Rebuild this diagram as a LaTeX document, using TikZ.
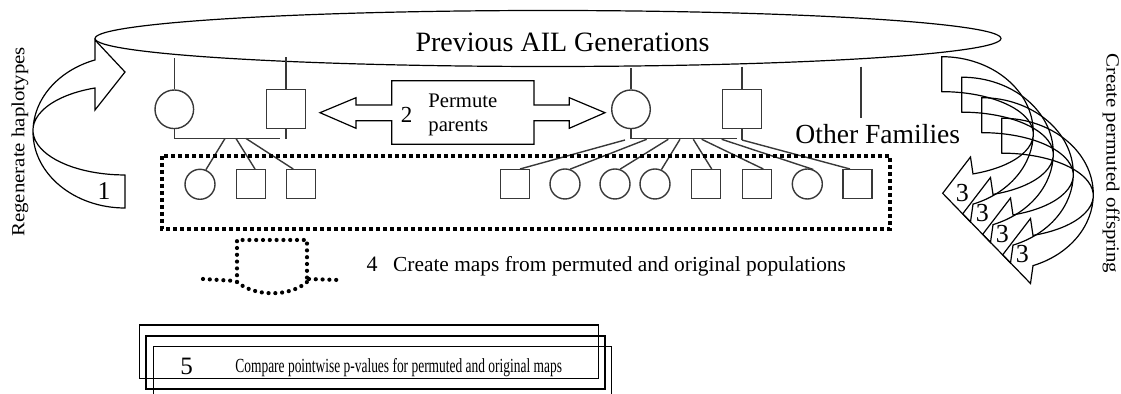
\documentclass[tikz,border=0pt]{standalone}
\usepackage{fontspec}
\setmainfont{Liberation Serif}
\usepackage{graphicx}
\usetikzlibrary{calc}
\tikzset{
 pline/.style={draw=black!78, line width=0.7pt},
 pcirc/.style={pline, circle, minimum size=19.3pt, inner sep=0pt},
 psq/.style={pline, rectangle, minimum size=19.5pt, inner sep=0pt},
 ccirc/.style={pline, circle, minimum size=15pt, inner sep=0pt},
 csq/.style={pline, rectangle, minimum size=14.5pt, inner sep=0pt},
 outl/.style={draw=black, line width=0.6pt},
 bigdots/.style={draw=black, line width=2pt, dash pattern=on 2pt off 1.5pt},
 rounddots/.style={draw=black, line width=2.1pt, dash pattern=on 0pt off 3.4pt, line cap=round},
 txt/.style={inner sep=0pt, text=black},
}
\begin{document}
\begin{tikzpicture}[x=0.5pt,y=0.5pt,yscale=-1]
\useasboundingbox (0,0) rectangle (1121,394);

% ---- Previous generations ellipse
\draw[outl] (548,38.5) ellipse [x radius=453, y radius=28];
\node[txt, font=\fontsize{14}{16}\selectfont, anchor=base] (gen) at (562.5,51.7) {Previous AIL Generations};

% ---- Family 1
\node[pcirc] (m1) at (174.3,109.3) {};
\node[psq] (f1) at (286,109) {};
\coordinate (m1top) at (174.3,58.3);
\coordinate (f1top) at (286,57.3);
\draw[pline] (m1top) -- (m1.north);
\draw[pline] (f1top) -- (f1.north);
\coordinate (j1a) at (174.3,138.5);
\coordinate (j1b) at (280,138.5);
\draw[pline] (m1.south) -- (j1a) -- (j1b);
\coordinate (f1s) at (286,139);
\draw[pline] (f1.south) -- (f1s);
\node[ccirc] (k1) at (200,184.3) {};
\node[csq] (k2) at (251,184.2) {};
\node[csq] (k3) at (301.2,184.2) {};
\coordinate (p1a) at (225,138.5);
\coordinate (p1b) at (236,138.5);
\coordinate (p1c) at (246,138.5);
\draw[pline] (p1a) -- (k1.68);
\draw[pline] (p1b) -- ($(k2.north)+(4,0)$);
\draw[pline] (p1c) -- ($(k3.north)+(-8,0)$);

% ---- Family 2
\node[pcirc] (m2) at (631,109.3) {};
\node[psq] (f2) at (742,109.2) {};
\coordinate (m2top) at (631,68.3);
\coordinate (f2top) at (742,66.7);
\draw[pline] (m2top) -- (m2.north);
\draw[pline] (f2top) -- (f2.north);
\coordinate (j2a) at (631,138.3);
\coordinate (j2b) at (736.7,138.3);
\draw[pline] (m2.south) -- (j2a) -- (j2b);
\coordinate (f2s) at (742,140);
\draw[pline] (f2.south) -- (f2s);
\node[csq] (s1) at (515,184.2) {};
\node[ccirc] (c2) at (565,184) {};
\node[ccirc] (c3) at (615,184) {};
\node[ccirc] (c4) at (655,184) {};
\node[csq] (s5) at (706,184.2) {};
\node[csq] (s6) at (756.7,184.2) {};
\node[ccirc] (c7) at (807.3,184) {};
\node[csq] (s8) at (857.5,184.2) {};
\coordinate (q1) at (625,140);
\coordinate (q2) at (646.7,139.3);
\coordinate (q3) at (668.3,139.3);
\coordinate (q4) at (680,139.3);
\coordinate (q5) at (693.3,139.3);
\coordinate (q6) at (701.7,139.3);
\coordinate (q7) at (721.7,139.3);
\draw[pline] (q1) -- ($(s1.north)+(5,0)$);
\draw[pline] (q2) -- (c2.71);
\draw[pline] (q3) -- (c3.71);
\draw[pline] (q4) -- (c4.66);
\draw[pline] (q5) -- ($(s5.north)+(5.7,0)$);
\draw[pline] (q6) -- ($(s6.north)+(6.6,0)$);
\draw[pline] (q7) -- (c7.68);
\draw[pline] (f2s) -- ($(s8.north)+(-7.5,0)$);

% ---- Other families
\coordinate (of1) at (861,66.7);
\coordinate (of2) at (861,118.3);
\draw[pline] (of1) -- (of2);
\node[txt, font=\fontsize{13.8}{16}\selectfont, anchor=base west] (other) at (795,143.3) {Other Families};

% ---- dotted offspring box
\draw[bigdots] (162,156) rectangle (890,229);

% ---- 2 Permute parents double arrow
\draw[outl, fill=white] (320,112.7) -- (356,97.7) -- (356,105) -- (391.7,105) -- (391.7,80.7)
  -- (534,80.7) -- (534,105) -- (569.3,105) -- (569.3,97.7) -- (605,112.7) -- (569.3,128.3)
  -- (569.3,120.7) -- (534,120.7) -- (534,144.3) -- (391.7,144.3) -- (391.7,120.7)
  -- (356,120.7) -- (356,128.3) -- cycle;
\node[txt, font=\fontsize{11.5}{12}\selectfont, anchor=base] (two) at (406.7,123) {2};
\node[txt, font=\fontsize{10.35}{12}\selectfont, anchor=base west] (perm1) at (428,108) {Permute};
\node[txt, font=\fontsize{10.35}{12}\selectfont, anchor=base west] (perm2) at (428,131.7) {parents};

% ---- 1 Regenerate haplotypes curved arrow
\draw[outl] (125,175) -- (125,208)
  arc[start angle=90, end angle=251, x radius=92, y radius=76.1]
  -- (95,40) -- (125,72) -- (95,110) -- (95,88)
  arc[start angle=251, end angle=90, x radius=92, y radius=44.7] -- cycle;
\node[txt, font=\fontsize{12.8}{13}\selectfont, anchor=base] (one) at (104,200) {1};
\node[txt, rotate=90, anchor=base, font=\fontsize{9.25}{10}\selectfont] (regen) at (24.3,142) {\scalebox{1.13}[1]{Regenerate haplotypes}};

% ---- 3 Create permuted offspring curved arrows
\foreach \k in {0,1,2,3}{
 \begin{scope}[shift={(20*\k,20.5*\k)}]
 \draw[outl] (941.7,56.7)
   arc[start angle=-90, end angle=70, x radius=91.6, y radius=76]
   -- (970.5,222) -- (942.7,193.3) -- (970.5,157) -- (973,173.9)
   arc[start angle=70, end angle=-90, x radius=91.6, y radius=42.4] -- cycle;
 \node[txt, font=\fontsize{13}{13}\selectfont] (three\k) at (962.3,192.7) {3};
 \end{scope}
}
\node[txt, rotate=-90, anchor=base, font=\fontsize{9.25}{10}\selectfont] (crp) at (1106.7,163.3) {\scalebox{1.13}[1]{Create permuted offspring}};

% ---- 4 Create maps
\draw[rounddots] (203,279) -- (236,281);
\draw[rounddots] (237,282) -- (237,240) -- (307,240) -- (307,282);
\draw[rounddots] (237,282) .. controls (255,297) and (290,297) .. (307,282);
\draw[rounddots] (309,279) -- (338,280);
\node[txt, font=\fontsize{11}{12}\selectfont, anchor=base] (four) at (372,272) {4};
\node[txt, font=\fontsize{10.7}{12}\selectfont, anchor=base west] (maps) at (392.7,271.5) {Create maps from permuted and original populations};

% ---- 5 Compare
\draw[outl] (139.3,325) rectangle (598.3,378.3);
\draw[outl] (146,336) rectangle (605,389);
\draw[outl] (153.3,394) -- (153.3,346.7) -- (611.7,346.7) -- (611.7,394);
\node[txt, font=\fontsize{12.5}{13}\selectfont, anchor=base] (five) at (186.7,375) {5};
\node[txt, font=\fontsize{10}{11}\selectfont, anchor=base west] (cmp) at (235,373) {\scalebox{0.672}[1]{Compare pointwise p-values for permuted and original maps}};
\end{tikzpicture}
\end{document}
